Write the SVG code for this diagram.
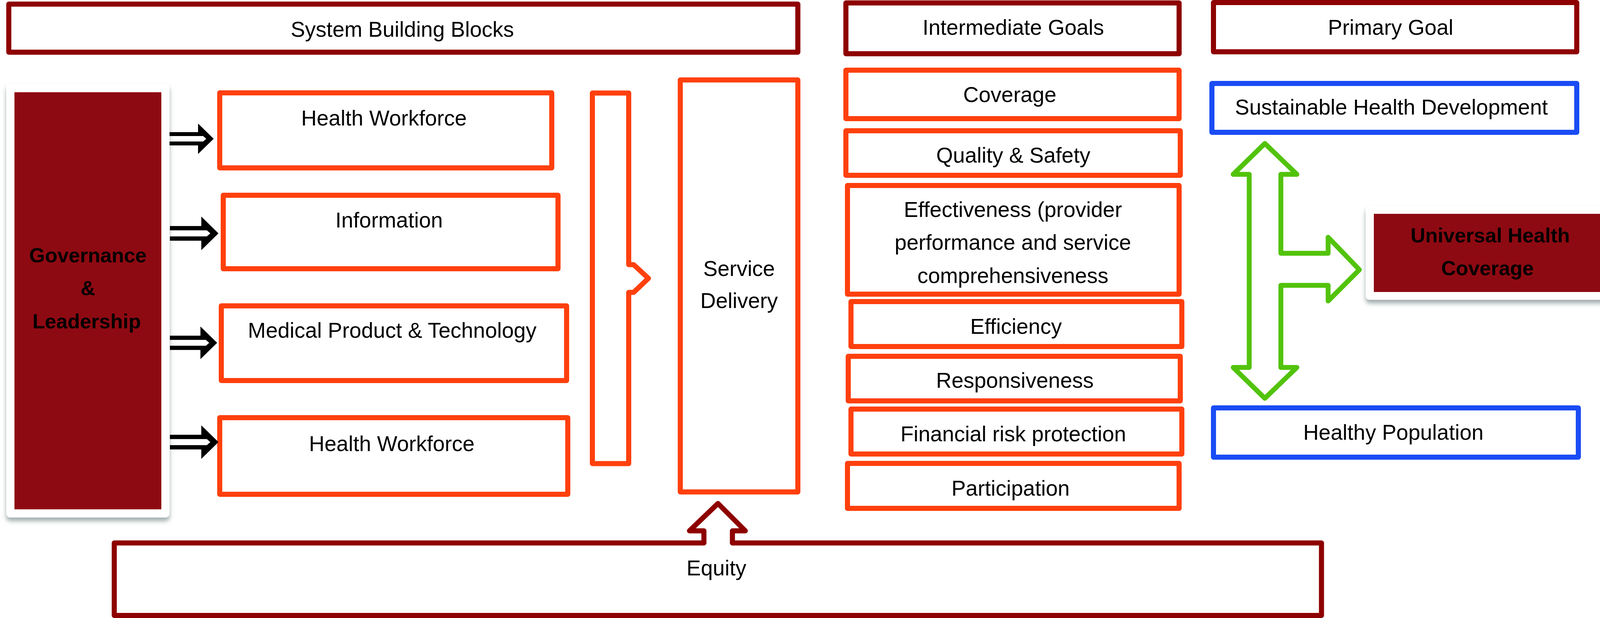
<svg xmlns="http://www.w3.org/2000/svg" width="4150" height="1581" viewBox="0 0 4150 1581">
<defs>
<style>
.t{font-family:"Liberation Sans",Arial,sans-serif;font-size:55px;fill:#000;text-anchor:middle}
.b{font-weight:bold;font-size:52px}
.dr{fill:#fff;stroke:#8E0000;stroke-width:13;stroke-linejoin:round;stroke-linecap:round}
.or{fill:#fff;stroke:#FF400D;stroke-width:13;stroke-linejoin:round;stroke-linecap:round}
.bl{fill:#fff;stroke:#1A4CF4;stroke-width:13;stroke-linejoin:round}
.gr{fill:none;stroke:#52C30B;stroke-width:12.5;stroke-linejoin:round}
.card{fill:#fff;filter:url(#sh)}
.fillred{fill:#8E0A12}
.arr{fill:#000}
</style>
<filter id="sh" x="-10%" y="-10%" width="120%" height="130%">
<feDropShadow dx="0" dy="9" stdDeviation="6" flood-color="#637678" flood-opacity="0.6"/>
</filter>
<path id="dbl" d="M0,-17 L73,-17 L73,-39 L113,0 L73,39 L73,17 L0,17 L0,7 L86,7 L94,0 L86,-7 L0,-7 Z"/>
</defs>
<rect width="4150" height="1581" fill="#fff"/>

<g id="system-building-blocks">
<rect class="dr" x="22.5" y="10.5" width="2020" height="123"/>
<text class="t" x="1030" y="94">System Building Blocks</text>
</g>
<g id="intermediate-goals">
<rect class="dr" x="2165.5" y="7.5" width="853" height="130"/>
<text class="t" x="2594" y="89">Intermediate Goals</text>
</g>
<g id="primary-goal">
<rect class="dr" x="3106.5" y="6.5" width="930" height="126"/>
<text class="t" x="3560" y="89">Primary Goal</text>
</g>

<g id="governance-leadership">
<rect class="card" x="16" y="214" width="418" height="1110" rx="10"/>
<rect class="fillred" x="37" y="236" width="376" height="1067"/>
<text class="t b" x="225" y="671">Governance</text>
<text class="t b" x="225" y="755">&amp;</text>
<text class="t b" x="222" y="840">Leadership</text>
</g>

<g id="health-workforce-1">
<rect class="or" x="562.5" y="237.5" width="850" height="192"/>
<text class="t" x="983" y="321">Health Workforce</text>
</g>
<g id="information">
<rect class="or" x="571.5" y="499.5" width="857" height="188"/>
<text class="t" x="996" y="582">Information</text>
</g>
<g id="medical-product-technology">
<rect class="or" x="566.5" y="782.5" width="884" height="191"/>
<text class="t" x="1004" y="864">Medical Product &amp; Technology</text>
</g>
<g id="health-workforce-2">
<rect class="or" x="562.5" y="1068.5" width="891" height="196"/>
<text class="t" x="1003" y="1154">Health Workforce</text>
</g>

<g id="service-delivery">
<rect class="or" x="1741.5" y="204.5" width="301" height="1054"/>
<text class="t" x="1892" y="706">Service</text>
<text class="t" x="1892" y="788">Delivery</text>
</g>

<g id="coverage">
<rect class="or" x="2165.5" y="179.5" width="853" height="124"/>
<text class="t" x="2585" y="261">Coverage</text>
</g>
<g id="quality-safety">
<rect class="or" x="2165.5" y="334.5" width="856" height="114"/>
<text class="t" x="2594" y="416">Quality &amp; Safety</text>
</g>
<g id="effectiveness">
<rect class="or" x="2169.5" y="474.5" width="849" height="278"/>
<text class="t" x="2593" y="555">Effectiveness (provider</text>
<text class="t" x="2593" y="639">performance and service</text>
<text class="t" x="2593" y="724">comprehensiveness</text>
</g>
<g id="efficiency">
<rect class="or" x="2178.5" y="771.5" width="847" height="115"/>
<text class="t" x="2601" y="854">Efficiency</text>
</g>
<g id="responsiveness">
<rect class="or" x="2171.5" y="911.5" width="850" height="114"/>
<text class="t" x="2598" y="992">Responsiveness</text>
</g>
<g id="financial-risk-protection">
<rect class="or" x="2178.5" y="1046.5" width="847" height="115"/>
<text class="t" x="2594" y="1129">Financial risk protection</text>
</g>
<g id="participation">
<rect class="or" x="2169.5" y="1185.5" width="849" height="115"/>
<text class="t" x="2587" y="1268">Participation</text>
</g>

<g id="sustainable-health-development">
<rect class="bl" x="3102.5" y="213.5" width="934" height="125"/>
<text class="t" x="3562" y="293">Sustainable Health Development</text>
</g>
<g id="healthy-population">
<rect class="bl" x="3106.5" y="1043.5" width="934" height="126"/>
<text class="t" x="3567" y="1125">Healthy Population</text>
</g>

<g id="universal-health-coverage">
<rect class="card" x="3496" y="527" width="636" height="240" rx="10"/>
<rect class="fillred" x="3517" y="547" width="596" height="200"/>
<text class="t b" x="3815" y="620">Universal Health</text>
<text class="t b" x="3808" y="704">Coverage</text>
</g>

<g id="equity">
<path class="dr" fill="none" style="fill:none" d="M1802,1389 L292.5,1389 L292.5,1574.5 L3383,1574.5 L3383,1389 L1875,1389"/>
<text class="t" x="1834" y="1472">Equity</text>
</g>

<g id="connectors">
<use href="#dbl" class="arr" transform="translate(434,355)"/>
<use href="#dbl" class="arr" transform="translate(435,597) scale(1.1)"/>
<use href="#dbl" class="arr" transform="translate(435,877) scale(1.07)"/>
<use href="#dbl" class="arr" transform="translate(435,1131) scale(1.1)"/>
<path class="or" style="fill:none" d="M1516.5,238 L1609.5,238 L1609.5,677 L1622,677 L1660,712 L1622,748 L1609.5,748 L1609.5,1186 L1516.5,1186 Z"/>
<path class="dr" style="fill:none" d="M1802,1389 L1802,1358 L1765,1358 L1838,1288 L1908,1358 L1875,1358 L1875,1389"/>
<path class="gr" d="M3238,367 L3320,446 L3279,446 L3279,648 L3400,648 L3400,607 L3480,690 L3400,770 L3400,730 L3279,730 L3279,940 L3320,940 L3238,1019 L3157,940 L3198,940 L3198,446 L3157,446 Z"/>
</g>
</svg>
